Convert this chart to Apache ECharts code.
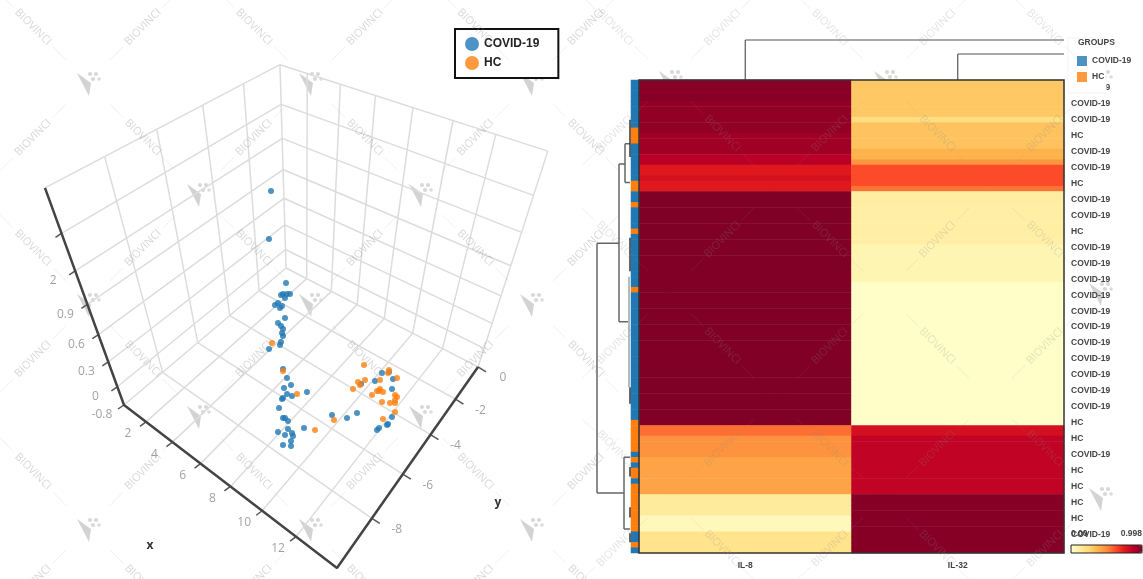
<!DOCTYPE html>
<html><head><meta charset="utf-8">
<style>html,body{margin:0;padding:0;background:#fff}#main{width:1143px;height:579px;filter:blur(0.45px)}</style>
<script src="https://cdn.jsdelivr.net/npm/echarts@6/dist/echarts.min.js"></script>
</head><body><div id="main"></div>
<script>
// ---- 3D scatter: point positions as read on the picture's projected plane ----
const covidPlaneX=[271,269,286,281,283,287,290,285,275,278,280,282,285,278,281,283,282,283,281,280,269,283,287,291,284,287,292,283,282,307,279,283,285,288,278,288,285,292,293,291,283,291,304,332,347,357,382,389,393,361,375,392,392,387,388,379,377];
const covidPlaneY=[191,239,283,295,294,294,294,298,305,303,308,306,318,323,326,329,333,336,342,345,349,369,378,385,388,394,396,398,399,392,408,418,418,421,432,429,435,433,436,441,445,446,428,415,418,413,373,372,379,384,381,389,417,425,424,428,430];
const hcPlaneX=[272,283,297,315,334,364,389,388,397,365,358,360,353,380,380,377,383,379,372,397,395,395,390,382,395,383,395];
const hcPlaneY=[343,371,394,430,420,365,370,373,378,380,382,385,389,380,389,391,392,391,395,397,400,403,403,402,412,419,395];
const xTicks=[2,4,6,8,10,12];
const yTicks=[-8,-6,-4,-2,0];
const zTicks=[-0.24,0,0.3,0.6,0.9,1.2,1.5];
const zTickLabels=['-0.8','0','0.3','0.6','0.9','2',''];
// ---- heatmap ----
const columns=['IL-8','IL-32'];
const groupNames=['COVID-19','HC'];
const rowGroup=[0,0,0,0,0,0,0,0,0,1,1,1,0,0,0,0,0,0,0,1,1,0,0,1,0,0,0,0,1,0,0,0,0,0,0,0,0,0,0,1,
0,0,0,0,0,0,0,0,0,0,0,0,0,0,0,0,0,0,0,0,0,0,0,0,1,1,1,1,1,1,0,1,0,1,1,0,1,1,1,1,1,1,1,1,1,0,0,1,0];
const il8=[.98,.98,.98,.98,.96,.96,.96,.96,.96,.96,.93,.93,.93,.93,.88,.88,.76,.76,.79,.76,.76,
.998,.998,.998,.998,.998,.998,.998,.998,.998,.998,.998,.998,.998,.998,.998,.998,.998,.998,.998,.998,.998,.998,
.998,.998,.998,.998,.998,.998,.998,.998,.998,.998,.998,.998,.998,.998,.998,.998,.998,.998,.998,.998,.998,.998,
.56,.56,.48,.48,.48,.48,.42,.42,.42,.42,.42,.42,.42,.14,.14,.14,.14,.05,.05,.05,.18,.18,.18,.18];
const il32=[.30,.30,.30,.30,.30,.30,.30,.22,.32,.32,.32,.32,.32,.375,.375,.47,.63,.63,.63,.63,.55,
.12,.12,.12,.11,.11,.11,.11,.11,.11,.11,.07,.07,.07,.07,.07,.07,.07,
.01,.01,.01,.01,.01,.01,.01,.01,.01,.01,.01,.01,.01,.01,.01,.01,.01,.01,.01,.01,.01,.01,.01,.01,.01,.01,.01,
.80,.80,.86,.86,.86,.86,.86,.86,.86,.86,.86,.86,.86,.985,.985,.985,.985,.985,.985,.985,.985,.985,.985,.985];
const heatRamp=['#ffffcc','#ffeda0','#fed976','#feb24c','#fd8d3c','#fc4e2a','#e31a1c','#bd0026','#800026'];
const BLUE='#1f77b4',ORANGE='#ff7f0e';
// dendrogram branches: [height, row, height, row]
const rowBranches=[[34,30.7,34,77.7],[34,30.7,12,30.7],[34,77.7,7,77.7],[12,15.8,12,45.5],[12,15.8,6,15.8],[12,45.5,3,45.5],
[6,12,6,19.3],[6,12,1,12],[6,19.3,1,19.3],[7,71,7,84.5],[7,71,1,71],[7,84.5,1,84.5]];
const rowTwigs=[[1,7.5,1,14.5],[1,29.7,1,36],[1,57.8,1,60.9],[1,72.8,1,74.6],[1,80.4,1,82.3],[1,85.3,1,87]];
const rowStems=[[2,37,2,57.8]];
const colBranches=[[0.5,0,0.5,40],[1.5,0,1.5,26],[0.5,40,2,40],[1.5,26,2,26]];

// perspective of the 3D box
const xMin=.25,xMax=14.25,yMin=-10,yMax=0,zMin=-.24,zMax=1.82;
function project(x,y,z){
  const u=(x-xMin)/(xMax-xMin),v=(y-yMin)/(yMax-yMin),t=(z-zMin)/(zMax-zMin);
  const w=1-.1943*u+.252*v-.304*t;
  return [(124+147.5*u+234.1*v-92.7*t)/w,(405+52.6*u-69.5*v-274.2*t)/w];
}
const brk=['-','-'];
const gridPath=[];
function seg(a,b){gridPath.push(a,b,brk);}
const xg=[xMin,...xTicks,xMax],yg=[yMin,...yTicks],zg=[...zTicks,zMax];
xg.forEach(x=>{seg(project(x,yMin,zMin),project(x,yMax,zMin));seg(project(x,yMax,zMin),project(x,yMax,zMax));});
yg.forEach(y=>{seg(project(xMin,y,zMin),project(xMax,y,zMin));seg(project(xMin,y,zMin),project(xMin,y,zMax));});
zg.forEach(z=>{seg(project(xMin,yMin,z),project(xMin,yMax,z));seg(project(xMin,yMax,z),project(xMax,yMax,z));});
const axisPath=[project(xMin,yMin,zMax),project(xMin,yMin,zMin),project(xMax,yMin,zMin),project(xMax,yMax,zMin)];
const tickPath=[];
function tick(p,dx,dy){tickPath.push(p,[p[0]+dx,p[1]+dy],brk);}
xTicks.forEach(x=>tick(project(x,yMin,zMin),-6,4.5));
yTicks.forEach(y=>tick(project(xMax,y,zMin),8,5));
zTicks.forEach(z=>tick(project(xMin,yMin,z),-6,4));
const labelStyle={fontFamily:'Open Sans',fontSize:12,color:'#8a8a8a'};
function labelSeries(items,dx,dy){return {type:'scatter',coordinateSystem:'cartesian2d',xAxisIndex:0,yAxisIndex:0,symbolSize:1,silent:true,
  itemStyle:{color:'transparent'},data:items,label:{show:true,position:'inside',offset:[dx,dy],formatter:p=>p.name,...labelStyle},z:3};}
const xLab=xTicks.map(x=>({name:String(x),value:project(x,yMin,zMin)}));
const yLab=yTicks.map(y=>({name:String(y),value:project(xMax,y,zMin)}));
const zLab=zTicks.map((z,i)=>({name:zTickLabels[i],value:project(xMin,yMin,z)}));
const heatData=[];
il8.forEach((v,i)=>heatData.push([0,i,v]));
il32.forEach((v,i)=>heatData.push([1,i,v]));
const sideData=rowGroup.map((g,i)=>[0,i,g]);
const rowLabels=rowGroup.map(g=>groupNames[g]);
function branches(list,color,width,xi,yi,z){const d=[];list.forEach(b=>{d.push([b[0],b[1]],[b[2],b[3]],brk);});
  return {type:'line',xAxisIndex:xi,yAxisIndex:yi,data:d,symbol:'none',silent:true,lineStyle:{color,width},z:z||3};}

// watermark lattice
const wm=[];
const wmInk='rgba(140,140,140,';
function lattice(cols,rows,lo,hi,textAlpha){
  const logos=[];
  rows.forEach((ry,r)=>cols.forEach((cx,c)=>{if((r+c)%2===0)logos.push({x:cx,y:ry,c,r});}));
  logos.forEach(a=>{
    if(a.x>lo&&a.x<hi){
      wm.push({type:'group',x:a.x,y:a.y,z:60,silent:true,children:[
        {type:'polygon',shape:{points:[[-11,-9],[3,1],[1,14]]},style:{fill:wmInk+'.38)'}},
        {type:'circle',shape:{cx:2,cy:-8,r:2.1},style:{fill:wmInk+'.34)'}},{type:'circle',shape:{cx:8,cy:-8,r:2.1},style:{fill:wmInk+'.34)'}},
        {type:'circle',shape:{cx:5,cy:-3,r:2.1},style:{fill:wmInk+'.34)'}},{type:'circle',shape:{cx:11,cy:-3,r:1.8},style:{fill:wmInk+'.3)'}}]});
    }
    logos.filter(b=>Math.abs(b.c-a.c)===1&&b.r===a.r+1).forEach(b=>{
      const mx=(a.x+b.x)/2,my=(a.y+b.y)/2;
      if(mx<lo-5||mx>hi+5)return;
      const rot=b.x>a.x?-Math.PI/4:Math.PI/4;
      wm.push({type:'text',x:mx,y:my,rotation:rot,z:60,silent:true,style:{text:'BIOVINCI',fill:wmInk+textAlpha+')',font:'11px "Open Sans"',align:'center',verticalAlign:'middle'}});
      [[.2,.32],[.68,.8]].forEach(s=>wm.push({type:'line',z:60,silent:true,shape:{x1:a.x+(b.x-a.x)*s[0],y1:a.y+(b.y-a.y)*s[0],x2:a.x+(b.x-a.x)*s[1],y2:a.y+(b.y-a.y)*s[1]},style:{stroke:wmInk+'.14)',lineWidth:1}}));
    });
  });
}
lattice([-22,88,198,310,420,531,641],[-28,82,193,303,415,528,638],0,585,.34);
lattice([560,670,775,885,990,1100,1210],[-25,80,187,292,400,497,600],600,1143,.24);

const chart=echarts.init(document.getElementById('main'),null,{renderer:'canvas'});
const hidden={show:false};
chart.setOption({
  animation:false,
  grid:[
    {left:0,top:0,width:1143,height:579},
    {left:639,top:80,width:425,height:473},
    {left:631,top:80,width:8,height:473},
    {left:595,top:80,width:36,height:473},
    {left:639,top:36,width:425,height:44}
  ],
  xAxis:[
    {gridIndex:0,type:'value',min:0,max:1143,...hidden},
    {gridIndex:1,type:'category',data:columns,position:'bottom',axisLine:hidden,axisTick:hidden,splitLine:hidden,
      axisLabel:{fontSize:8.5,fontWeight:'bold',color:'#444',fontFamily:'Liberation Sans',margin:8}},
    {gridIndex:2,type:'category',data:['GROUPS'],...hidden},
    {gridIndex:3,type:'value',min:0,max:36,inverse:true,...hidden},
    {gridIndex:4,type:'value',min:0,max:2,...hidden}
  ],
  yAxis:[
    {gridIndex:0,type:'value',min:0,max:579,inverse:true,...hidden},
    {gridIndex:1,type:'category',data:rowLabels,inverse:true,position:'right',axisLine:hidden,axisTick:hidden,splitLine:hidden,
      axisLabel:{interval:(i)=>i%3===1,fontSize:8.5,fontWeight:'bold',color:'#444',fontFamily:'Liberation Sans',margin:7,align:'left'}},
    {gridIndex:2,type:'category',data:rowLabels,inverse:true,...hidden},
    {gridIndex:3,type:'value',min:0,max:89,inverse:true,...hidden},
    {gridIndex:4,type:'value',min:0,max:44,...hidden}
  ],
  legend:[
    {show:true,data:['COVID-19','HC'],left:455,top:29,orient:'vertical',padding:[8,19,8,10],itemGap:5,itemWidth:14,itemHeight:14,icon:'circle',
      borderColor:'#111',borderWidth:2,backgroundColor:'#fff',textStyle:{fontFamily:'Liberation Sans',fontWeight:'bold',fontSize:12,color:'#222'},selectedMode:false,z:40},
    {show:true,data:['COVID-19','HC'],left:1077,top:56,orient:'vertical',padding:0,itemGap:6,itemWidth:10,itemHeight:10,icon:'rect',
      textStyle:{fontFamily:'Liberation Sans',fontWeight:'bold',fontSize:8.5,color:'#444'},selectedMode:false,z:40}
  ],
  visualMap:[
    {type:'continuous',seriesIndex:[0],dimension:2,min:0,max:0.998,inRange:{color:heatRamp},orient:'horizontal',left:1071,top:545,itemWidth:8,itemHeight:71,padding:0,text:null,calculable:false,realtime:false,hoverLink:false,show:true,textStyle:{fontSize:1,color:'transparent'}},
    {type:'piecewise',seriesIndex:[1],dimension:2,show:false,pieces:[{value:0,color:BLUE},{value:1,color:ORANGE}]}
  ],
  series:[
    {type:'heatmap',xAxisIndex:1,yAxisIndex:1,data:heatData,silent:true,progressive:0,z:2},
    {type:'heatmap',xAxisIndex:2,yAxisIndex:2,data:sideData,silent:true,progressive:0,z:2},
    {type:'line',xAxisIndex:0,yAxisIndex:0,data:gridPath,symbol:'none',silent:true,lineStyle:{color:'#dcdcdc',width:1.5},z:1},
    {type:'line',xAxisIndex:0,yAxisIndex:0,data:tickPath,symbol:'none',silent:true,lineStyle:{color:'#555',width:1.5},z:2},
    {type:'line',xAxisIndex:0,yAxisIndex:0,data:axisPath,symbol:'none',silent:true,lineStyle:{color:'#444',width:2.5},z:2},
    labelSeries(xLab,-18,12),labelSeries(yLab,25,11),labelSeries(zLab,-22,10),
    {type:'scatter',name:'COVID-19',xAxisIndex:0,yAxisIndex:0,data:covidPlaneX.map((x,i)=>[x,covidPlaneY[i]]),symbolSize:6,itemStyle:{color:BLUE},z:4},
    {type:'scatter',name:'HC',xAxisIndex:0,yAxisIndex:0,data:hcPlaneX.map((x,i)=>[x,hcPlaneY[i]]),symbolSize:6,itemStyle:{color:ORANGE},z:4},
    branches(rowBranches,'#666',1.5,3,3),
    branches(rowTwigs,'#333',1.5,3,3),
    branches(rowStems,'#9aa5ad',1.5,3,3),
    branches(colBranches,'#555',1.2,4,4)
  ],
  graphic:[
    {type:'rect',z:20,silent:true,shape:{x:1068,y:38,width:38,height:55},style:{fill:'#fff',stroke:'#f4f4f4',lineWidth:1}},
    {type:'rect',z:20,silent:true,shape:{x:639,y:80,width:425,height:473},style:{fill:'none',stroke:'#333',lineWidth:1.5}},
    {type:'rect',z:20,silent:true,shape:{x:1071,y:545,width:71,height:8},style:{fill:'none',stroke:'#222',lineWidth:1}},
    {type:'text',z:41,silent:true,x:1078,y:43,style:{text:'GROUPS',font:'bold 8.5px "Liberation Sans"',fill:'#444',verticalAlign:'middle'}},
    {type:'text',z:41,silent:true,x:1071,y:534,style:{text:'0.00',font:'bold 8.5px "Liberation Sans"',fill:'#444',verticalAlign:'middle'}},
    {type:'text',z:41,silent:true,x:1142,y:534,style:{text:'0.998',font:'bold 8.5px "Liberation Sans"',fill:'#444',align:'right',verticalAlign:'middle'}},
    {type:'text',z:41,silent:true,x:150,y:546,style:{text:'x',font:'bold 12px "Open Sans"',fill:'#333',align:'center',verticalAlign:'middle'}},
    {type:'text',z:41,silent:true,x:498,y:503,style:{text:'y',font:'bold 12px "Open Sans"',fill:'#333',align:'center',verticalAlign:'middle'}},
    ...wm
  ]
});
</script></body></html>
